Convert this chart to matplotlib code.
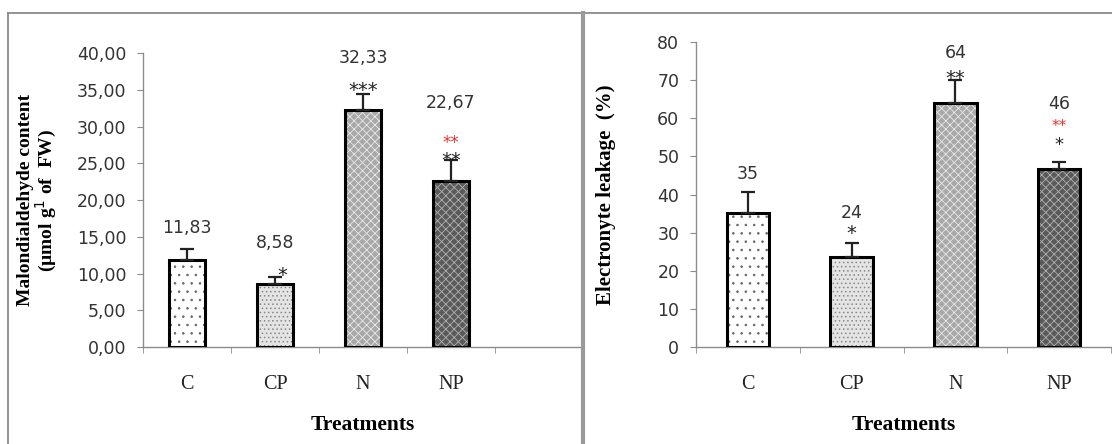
import numpy as np
import matplotlib
matplotlib.use("Agg")
import matplotlib.pyplot as plt
from matplotlib.lines import Line2D

treatments = ["C", "CP", "N", "NP"]

# malondialdehyde panel
mda_values = [11.83, 8.58, 32.33, 22.67]
mda_err = [1.47, 1.0, 2.1, 2.75]
mda_labels = ["11,83", "8,58", "32,33", "22,67"]
mda_yticks = [0, 5, 10, 15, 20, 25, 30, 35, 40]

# electrolyte leakage panel
el_values = [35.2, 23.7, 63.9, 46.6]
el_err = [5.5, 3.7, 6.1, 2.0]
el_labels = ["35", "24", "64", "46"]
el_yticks = [0, 10, 20, 30, 40, 50, 60, 70, 80]

faces = ["#ffffff", "#e4e4e4", "#a8a8a8", "#5a5a5a"]
hatch_cols = ["#666666", "#888888", "#e8e8e8", "#b0b0b0"]
hatches = ["..", "....", "xxxx", "xxxx"]

SANS = "DejaVu Sans"
SERIF = "Liberation Serif"
GRAY = "#8c8c8c"
TXT = "#333333"

plt.rcParams["hatch.linewidth"] = 0.6


def draw_bars(ax, values, err):
    x = np.arange(len(values))
    for i in range(len(values)):
        ax.bar(x[i], values[i], width=0.41, color=faces[i], edgecolor=hatch_cols[i],
               hatch=hatches[i], linewidth=0, zorder=2)
    ax.bar(x, values, width=0.41, fill=False, edgecolor="black", linewidth=2.2, zorder=3)
    ax.errorbar(x, values, yerr=[np.zeros(len(err)), err], fmt="none", ecolor="#222222",
                elinewidth=1.6, capsize=5, capthick=1.6, zorder=4)


def style_axes(ax, yticks, fmt, nslots):
    ax.set_ylim(yticks[0], yticks[-1])
    ax.set_xlim(-0.5, nslots - 0.5)
    ax.set_yticks(yticks)
    ax.set_yticklabels([fmt(v) for v in yticks], fontfamily=SANS, fontsize=12.5, color=TXT)
    ax.set_xticks(range(4))
    ax.set_xticklabels(treatments, fontfamily=SERIF, fontsize=14.5, color="#222222")
    ax.set_xticks(np.arange(-0.5, nslots, 1.0), minor=True)
    ax.tick_params(axis="x", which="major", length=0, pad=20)
    ax.tick_params(axis="x", which="minor", length=4, color=GRAY, direction="out")
    ax.tick_params(axis="y", length=4, color=GRAY, pad=8)
    for s in ["top", "right"]:
        ax.spines[s].set_visible(False)
    for s in ["left", "bottom"]:
        ax.spines[s].set_color(GRAY)
        ax.spines[s].set_linewidth(1.0)
    ax.set_xlabel("Treatments", fontfamily=SERIF, fontweight="bold", fontsize=15.5, labelpad=15)


fig = plt.figure(figsize=(11.12, 4.44), dpi=100)

# left panel
ax1 = fig.add_axes([0.1286, 0.2185, 0.3957, 0.6614])
draw_bars(ax1, mda_values, mda_err)
style_axes(ax1, mda_yticks, lambda v: f"{v:.2f}".replace(".", ","), 5)
ax1.set_ylabel("Malondialdehyde content\n(µmol g$^{1}$ of  FW)", fontfamily=SERIF,
               fontweight="bold", fontsize=14, linespacing=1.0, labelpad=13)
mda_label_y = [16.2, 14.2, 39.3, 33.3]
for i, lab in enumerate(mda_labels):
    ax1.text(i, mda_label_y[i], lab, ha="center", va="center", fontfamily=SANS,
             fontsize=12.5, color=TXT)
ax1.text(1.08, 9.7, "*", ha="center", va="center", fontsize=14, color="#222222")
ax1.text(2, 35.0, "***", ha="center", va="center", fontsize=14, color="#222222")
ax1.text(3.0, 25.4, "**", ha="center", va="center", fontsize=14, color="#222222")
ax1.text(3.0, 27.8, "**", ha="center", va="center", fontsize=12, color="#e8302a")

# right panel
ax2 = fig.add_axes([0.6259, 0.2178, 0.3732, 0.688])
draw_bars(ax2, el_values, el_err)
style_axes(ax2, el_yticks, lambda v: f"{v:d}", 4)
ax2.set_ylabel("Electronyte leakage  (%)", fontfamily=SERIF, fontweight="bold",
               fontsize=15, labelpad=30)
el_label_y = [45.4, 35.2, 77.0, 63.7]
for i, lab in enumerate(el_labels):
    ax2.text(i, el_label_y[i], lab, ha="center", va="center", fontfamily=SANS,
             fontsize=12.5, color=TXT)
ax2.text(1, 29.8, "*", ha="center", va="center", fontsize=14, color="#222222")
ax2.text(2, 70.4, "**", ha="center", va="center", fontsize=14, color="#222222")
ax2.text(3, 52.9, "*", ha="center", va="center", fontsize=13, color="#222222")
ax2.text(3, 57.8, "**", ha="center", va="center", fontsize=11, color="#e8302a")

# panel frames
W, H = 1112.0, 444.0
frame = dict(color="#8a8a8a", linewidth=1.3, transform=fig.transFigure)
fig.add_artist(Line2D([8 / W, 1.0], [1 - 13 / H, 1 - 13 / H], **frame))
fig.add_artist(Line2D([8 / W, 8 / W], [0, 1 - 13 / H], **frame))
fig.add_artist(Line2D([583 / W, 583 / W], [0, 1 - 13 / H], color="#9a9a9a",
                      linewidth=3.0, transform=fig.transFigure))

fig.savefig("out.png", dpi=100)
